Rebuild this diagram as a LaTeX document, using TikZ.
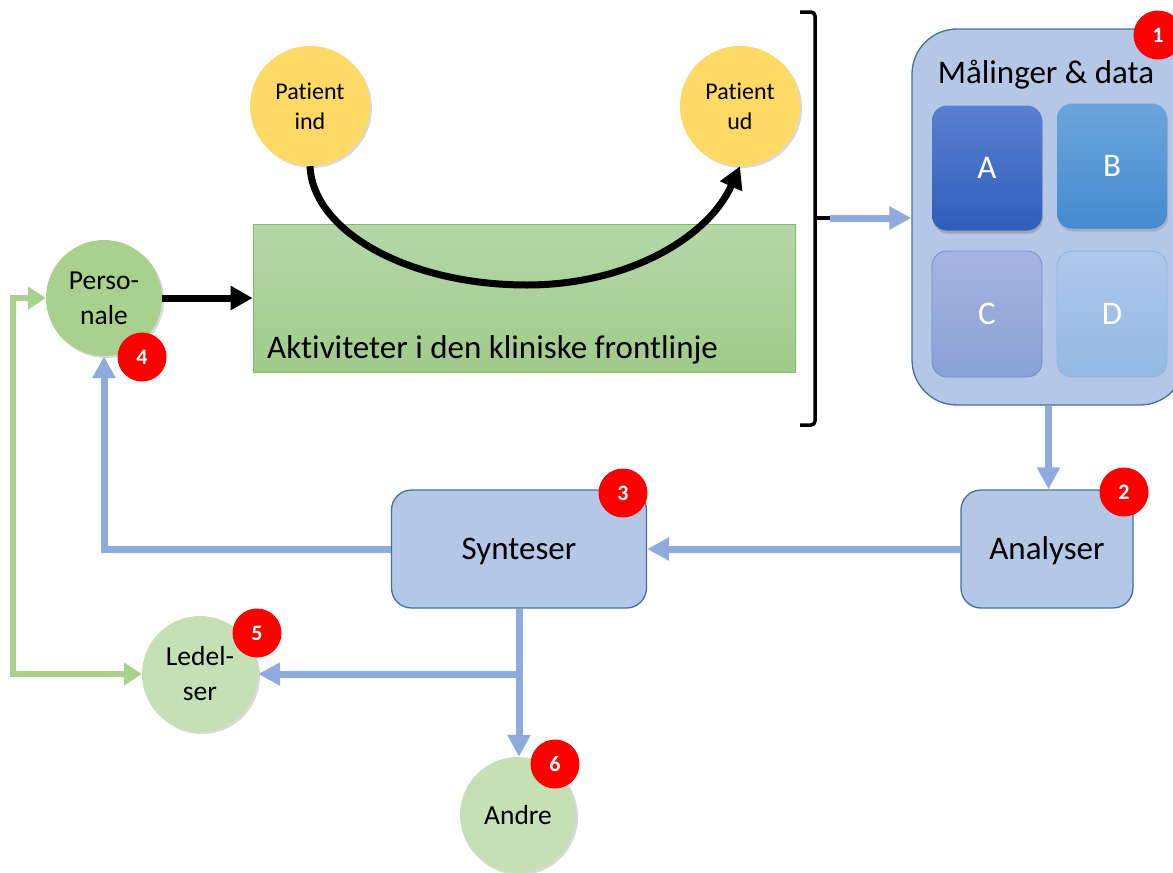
\documentclass[tikz,border=0pt]{standalone}
\usepackage{fontspec}
\setmainfont{Carlito}[Ligatures=NoCommon]
\usetikzlibrary{arrows.meta,shadows}
\definecolor{arrB}{HTML}{8FAADC}
\definecolor{boxF}{HTML}{B4C7E7}
\definecolor{boxD}{HTML}{41719C}
\definecolor{patY}{HTML}{FFD966}
\definecolor{persG}{HTML}{A9D18E}
\definecolor{ledG}{HTML}{C5E0B4}
\definecolor{actT}{HTML}{B5D7A8}
\definecolor{actB}{HTML}{A0CB8B}
\definecolor{actD}{HTML}{7FBF63}
\definecolor{aT}{HTML}{5B7FD1}
\definecolor{aB}{HTML}{2E5EBB}
\definecolor{bT}{HTML}{6BA5DC}
\definecolor{bB}{HTML}{438BCF}
\definecolor{cT}{HTML}{A7B5E0}
\definecolor{cB}{HTML}{8AA0D5}
\definecolor{cD}{HTML}{6F8FCF}
\definecolor{dT}{HTML}{ADC8EA}
\definecolor{dB}{HTML}{93B9E4}
\definecolor{dD}{HTML}{8FB4E3}
\begin{document}
\begin{tikzpicture}[x=1pt,y=-1pt,
  badge/.style={circle,fill=red,minimum size=49pt,inner sep=0pt,text=white,font=\bfseries\fontsize{22}{22}\selectfont},
  circ/.style={circle,minimum size=116pt,inner sep=0pt,align=center,
    drop shadow={opacity=0.3,shadow xshift=2pt,shadow yshift=-2pt}},
  ycirc/.style={circ,fill=patY,minimum size=120pt,font=\fontsize{24}{30}\selectfont},
  gcirc/.style={circ,font=\fontsize{27.5}{35}\selectfont},
  bluebox/.style={draw=boxD,line width=1.3pt,fill=boxF,rounded corners=20pt,font=\fontsize{33}{33}\selectfont,text height=21pt,text depth=0pt},
  sub/.style={rounded corners=15pt,minimum width=110pt,minimum height=125pt,text=white,font=\fontsize{33}{33}\selectfont},
  flow/.style={draw=arrB,line width=7pt,-{Triangle[length=22pt,width=22pt]}},
  gflow/.style={draw=persG,line width=6pt,{Triangle[length=18pt,width=22pt]}-{Triangle[length=18pt,width=22pt]}},
  blk/.style={draw=black,line width=7pt,-{Triangle[length=22pt,width=23pt]}}
]
\useasboundingbox (0,0) rectangle (1173,873);
\begin{scope}
\clip (0,0) rectangle (1173,873);

% Measurements box
\node[bluebox,rounded corners=45pt,minimum width=273pt,minimum height=376pt] (mal) at (1048.5,217) {};
\node[font=\fontsize{33}{33}\selectfont,anchor=base] (maltxt) at (1046,83) {Målinger \& data};
\node[sub,top color=aT,bottom color=aB,drop shadow={opacity=0.45,shadow xshift=1pt,shadow yshift=-3pt}] (A) at (987,168) {A};
\node[sub,top color=bT,bottom color=bB,drop shadow={opacity=0.35,shadow xshift=1pt,shadow yshift=-3pt}] (B) at (1112,166) {B};
\node[sub,top color=cT,bottom color=cB,draw=cD,line width=0.8pt,minimum height=126pt] (C) at (987,314) {C};
\node[sub,top color=dT,bottom color=dB,draw=dD,line width=0.8pt,minimum height=126pt] (D) at (1112,314) {D};
\node[badge] (b1) at (1158,35) {1};

% Frontline activities
\node[draw=actD,line width=0.8pt,top color=actT,bottom color=actB,minimum width=542pt,minimum height=148pt,inner sep=0pt] (act) at (524,298) {};
\node[anchor=base west,font=\fontsize{33}{33}\selectfont,inner sep=0pt] (acttxt) at (267,358) {Aktiviteter i den kliniske frontlinje};

\node[ycirc] (pin) at (310,106) {Patient\\ind};
\node[ycirc] (pud) at (740,106) {Patient\\ud};
\coordinate (cb) at (527,285);
\draw[blk] (pin.south) .. controls (313,232) and (409,285) .. (cb) .. controls (627,285) and (708,238) .. (pud.south);

% Bracket
\coordinate (bt) at (800,12);
\coordinate (bb) at (800,425);
\coordinate (brk) at (815,218);
\coordinate (brkt) at (830,218);
\draw[line width=3.5pt,rounded corners=4pt] (bt) -- (815,12) -- (815,425) -- (bb);
\draw[line width=3.5pt] (brk) -- (brkt);
\draw[flow] (brkt) -- (brkt -| mal.west);

% People
\node[gcirc,fill=persG] (pers) at (104,298) {Perso-\\nale};
\node[gcirc,fill=ledG] (led) at (200,674) {Ledel-\\ser};
\node[gcirc,fill=ledG] (andre) at (518,815) {Andre};
\node[badge] (b4) at (142,357) {4};
\node[badge] (b5) at (257,633) {5};
\node[badge] (b6) at (555,764) {6};

\draw[blk] (pers.east) -- (pers.east -| act.west);

% Analysis / synthesis
\node[bluebox,minimum width=172pt,minimum height=118pt] (ana) at (1047,549) {Analyser};
\node[bluebox,minimum width=255pt,minimum height=118pt] (syn) at (519,549) {Synteser};
\node[badge] (b2) at (1124,492) {2};
\node[badge] (b3) at (623,493) {3};

\draw[flow] (mal.south) -- (mal.south |- ana.north);
\draw[flow] (ana.west) -- (syn.east);
\draw[flow] (syn.west) -| (pers.south);
\draw[flow] (syn.south) -- (syn.south |- andre.north);
\coordinate (br) at (syn.south |- led.east);
\draw[flow] (br) -- (led.east);

\coordinate (gl) at (13,298);
\draw[gflow] (pers.west) -- (gl) |- (led.west);
\end{scope}
\end{tikzpicture}
\end{document}
